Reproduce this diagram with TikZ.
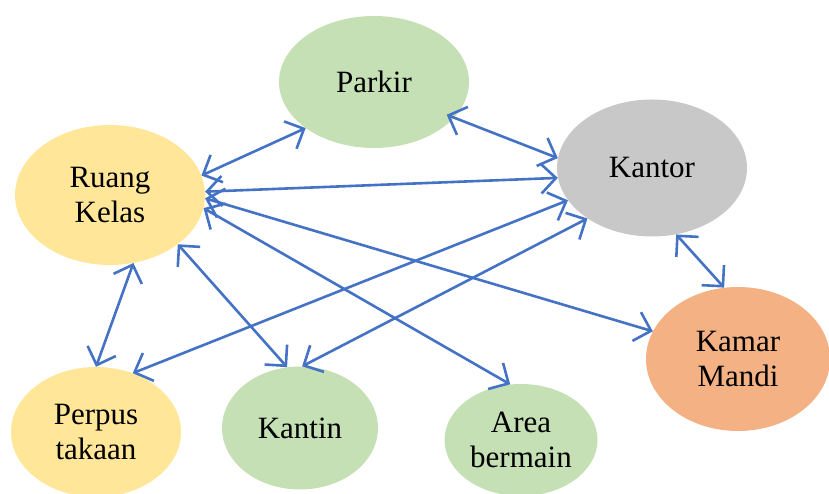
\documentclass[tikz,border=0pt]{standalone}
\usepackage{fontspec}
\setmainfont{Liberation Serif}
\usetikzlibrary{shapes.geometric,arrows.meta}
\definecolor{kuning}{HTML}{FFE699}
\definecolor{hijau}{HTML}{C5E0B4}
\definecolor{abu}{HTML}{C8C8C8}
\definecolor{oranye}{HTML}{F4B183}
\definecolor{garis}{HTML}{4472C4}
\begin{document}
\begin{tikzpicture}[x=1pt,y=1pt,
  ruang/.style={ellipse,inner sep=0pt,align=center,font=\fontsize{31}{35}\selectfont},
  hub/.style={draw=garis,line width=2.6pt,
    {Straight Barb[length=15pt,width=30pt]}-{Straight Barb[length=15pt,width=30pt]}}]
  \useasboundingbox (0,0) rectangle (829,494);
  % ruang
  \node[ruang,fill=kuning,minimum width=190pt,minimum height=140pt] (kelas) at (110,299) {Ruang\\Kelas};
  \node[ruang,fill=hijau,minimum width=190pt,minimum height=132pt] (parkir) at (374,412) {Parkir};
  \node[ruang,fill=abu,minimum width=190pt,minimum height=137pt] (kantor) at (652,326) {Kantor};
  \node[ruang,fill=oranye,minimum width=184pt,minimum height=144pt] (kamar) at (738,135) {Kamar\\Mandi};
  \node[ruang,fill=kuning,minimum width=170pt,minimum height=130pt] (perpus) at (96,62) {Perpus\\takaan};
  \node[ruang,fill=hijau,minimum width=156pt,minimum height=123pt] (kantin) at (300,66) {Kantin};
  \node[ruang,fill=hijau,minimum width=153pt,minimum height=112pt] (area) at (521,54) {Area\\bermain};
  % hubungan
  \draw[hub] (kelas.12) -- (parkir.214);
  \draw[hub,shorten <=-8pt] (parkir.336) -- (kantor.174);
  \draw[hub] (kelas.2) -- (kantor.186);
  \draw[hub] (kelas.-2) -- (kamar.162);
  \draw[hub] (kelas.-8) -- (area.101);
  \draw[hub] (kelas.-36) -- (kantin.102);
  \draw[hub] (kelas.-71) -- (perpus.90);
  \draw[hub] (kantor.201) -- (perpus.58);
  \draw[hub] (kantor.218) -- (kantin.88);
  \draw[hub] (kantor.-70) -- (kamar.101);
\end{tikzpicture}
\end{document}
